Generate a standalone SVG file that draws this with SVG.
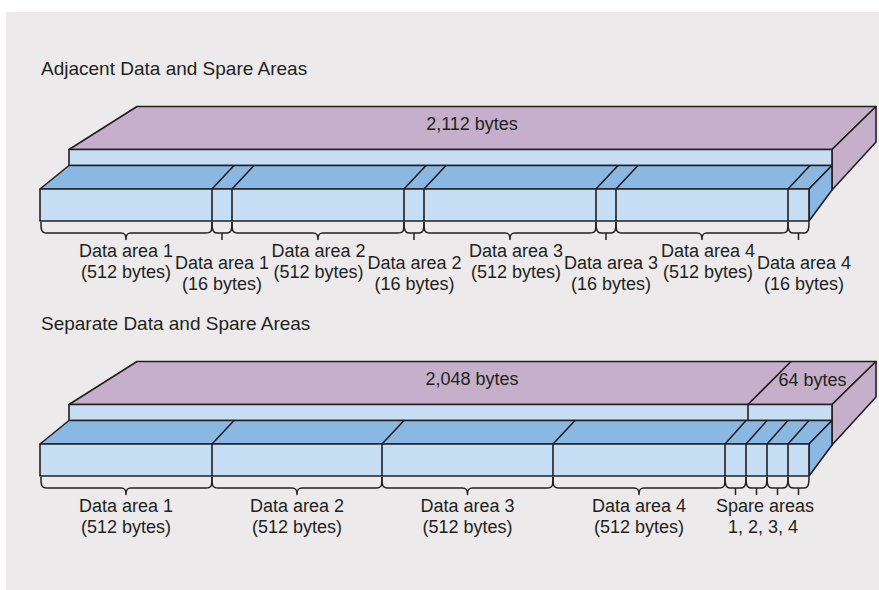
<svg xmlns="http://www.w3.org/2000/svg" width="879" height="590" viewBox="0 0 879 590">
  <style>
    .panel { fill: #ECEAEB; }
    .purple { fill: #C5AFCB; stroke: #231F20; stroke-width: 1.6; stroke-linejoin: round; }
    .light { fill: #C6DEF3; stroke: #231F20; stroke-width: 1.6; stroke-linejoin: round; }
    .mid { fill: #8AB8E2; stroke: #231F20; stroke-width: 1.6; stroke-linejoin: round; }
    .line { fill: none; stroke: #231F20; stroke-width: 1.6; }
    .brace { fill: none; stroke: #231F20; stroke-width: 1.5; stroke-linejoin: round; }
    text { font-family: "Liberation Sans", Arial, sans-serif; font-size: 18px; fill: #231F20; }
    .title { font-size: 19px; }
    .c { text-anchor: middle; }
  </style>

  <rect class="panel" x="6" y="12" width="873" height="578"/>

  <!-- Upper layout: data and spare areas interleaved -->
  <text id="title-adjacent" class="title" x="41" y="75">Adjacent Data and Spare Areas</text>

  <g id="page-adjacent">
    <polygon class="purple" points="69,149.5 137,106.5 876,106.5 832,149.5"/>
    <polygon class="purple" points="832,149.5 876,106.5 876,142 832,190"/>
    <rect class="light" x="69" y="149.5" width="763" height="16"/>
    <text class="c" x="472" y="130">2,112 bytes</text>
  </g>

  <g id="areas-adjacent">
    <polygon class="mid" points="40,189 69,165.5 832,165.5 809,189"/>
    <polygon class="mid" points="809,189 832,165.5 832,190 809,221"/>
    <rect class="light" x="40" y="189" width="769" height="32"/>
    <g class="line">
      <path d="M212,189 L234,165.5 M232,189 L254,165.5 M404,189 L426,165.5 M424,189 L446,165.5 M596,189 L618,165.5 M616,189 L638,165.5 M788,189 L810,165.5"/>
      <path d="M212,189 V221 M232,189 V221 M404,189 V221 M424,189 V221 M596,189 V221 M616,189 V221 M788,189 V221"/>
    </g>
  </g>

  <g id="braces-adjacent" class="brace">
    <path d="M41,222 C41,230 41,233 47,233 H121 C125,233 126,235 126,239.5 C126,235 127,233 131,233 H206 C212,233 212,230 212,222"/>
    <path d="M212,222 C212,230 213,233 217,233 H227 C231,233 232,230 232,222 M222,233 V240"/>
    <path d="M232,222 C232,230 232,233 238,233 H313 C317,233 318,235 318,239.5 C318,235 319,233 323,233 H398 C404,233 404,230 404,222"/>
    <path d="M404,222 C404,230 405,233 409,233 H419 C423,233 424,230 424,222 M414,233 V240"/>
    <path d="M424,222 C424,230 424,233 430,233 H505 C509,233 510,235 510,239.5 C510,235 511,233 515,233 H590 C596,233 596,230 596,222"/>
    <path d="M596,222 C596,230 597,233 601,233 H611 C615,233 616,230 616,222 M606,233 V240"/>
    <path d="M616,222 C616,230 616,233 622,233 H697 C701,233 702,235 702,239.5 C702,235 703,233 707,233 H782 C788,233 788,230 788,222"/>
    <path d="M788,222 C788,230 789,233 793,233 H804 C808,233 809,230 809,222 M798.5,233 V240"/>
  </g>

  <g id="labels-adjacent">
    <text class="c" x="126" y="257">Data area 1</text>
    <text class="c" x="126" y="278">(512 bytes)</text>
    <text class="c" x="222" y="269">Data area 1</text>
    <text class="c" x="222" y="290">(16 bytes)</text>
    <text class="c" x="318.5" y="257">Data area 2</text>
    <text class="c" x="318.5" y="278">(512 bytes)</text>
    <text class="c" x="414.5" y="269">Data area 2</text>
    <text class="c" x="414.5" y="290">(16 bytes)</text>
    <text class="c" x="516" y="257">Data area 3</text>
    <text class="c" x="516" y="278">(512 bytes)</text>
    <text class="c" x="611" y="269">Data area 3</text>
    <text class="c" x="611" y="290">(16 bytes)</text>
    <text class="c" x="708" y="257">Data area 4</text>
    <text class="c" x="708" y="278">(512 bytes)</text>
    <text class="c" x="804" y="269">Data area 4</text>
    <text class="c" x="804" y="290">(16 bytes)</text>
  </g>

  <!-- Lower layout: data areas first, spare areas grouped at the end -->
  <text id="title-separate" class="title" x="41" y="330">Separate Data and Spare Areas</text>

  <g id="page-separate">
    <polygon class="purple" points="69,404.5 137,361.5 876,361.5 832,404.5"/>
    <polygon class="purple" points="832,404.5 876,361.5 876,397 832,445"/>
    <rect class="light" x="69" y="404.5" width="763" height="16"/>
    <path class="line" d="M748,404.5 L791,361.5 M748,404.5 V420.5"/>
    <text class="c" x="472" y="385">2,048 bytes</text>
    <text class="c" x="812.5" y="386">64 bytes</text>
  </g>

  <g id="areas-separate">
    <polygon class="mid" points="40,444 69,420.5 832,420.5 809,444"/>
    <polygon class="mid" points="809,444 832,420.5 832,445 809,476"/>
    <rect class="light" x="40" y="444" width="769" height="32"/>
    <g class="line">
      <path d="M212,444 L234,420.5 M382,444 L404,420.5 M553,444 L575,420.5 M725,444 L746,420.5 M746,444 L767,420.5 M767,444 L788,420.5 M788,444 L809,420.5"/>
      <path d="M212,444 V476 M382,444 V476 M553,444 V476 M725,444 V476 M746,444 V476 M767,444 V476 M788,444 V476"/>
    </g>
  </g>

  <g id="braces-separate" class="brace">
    <path d="M41,477 C41,485 41,488 47,488 H121 C125,488 126,490 126,494.5 C126,490 127,488 131,488 H206 C212,488 212,485 212,477"/>
    <path d="M212,477 C212,485 212,488 218,488 H292 C296,488 297,490 297,494.5 C297,490 298,488 302,488 H376 C382,488 382,485 382,477"/>
    <path d="M382,477 C382,485 382,488 388,488 H462.5 C466.5,488 467.5,490 467.5,494.5 C467.5,490 468.5,488 472.5,488 H547 C553,488 553,485 553,477"/>
    <path d="M553,477 C553,485 553,488 559,488 H634 C638,488 639,490 639,494.5 C639,490 640,488 644,488 H719 C725,488 725,485 725,477"/>
    <path d="M725,477 C725,485 726,488 730,488 H741 C745,488 746,485 746,477 M735.5,488 V495"/>
    <path d="M746,477 C746,485 747,488 751,488 H762 C766,488 767,485 767,477 M756.5,488 V495"/>
    <path d="M767,477 C767,485 768,488 772,488 H783 C787,488 788,485 788,477 M777.5,488 V495"/>
    <path d="M788,477 C788,485 789,488 793,488 H804 C808,488 809,485 809,477 M798.5,488 V495"/>
  </g>

  <g id="labels-separate">
    <text class="c" x="126" y="512">Data area 1</text>
    <text class="c" x="126" y="533">(512 bytes)</text>
    <text class="c" x="297" y="512">Data area 2</text>
    <text class="c" x="297" y="533">(512 bytes)</text>
    <text class="c" x="467.5" y="512">Data area 3</text>
    <text class="c" x="467.5" y="533">(512 bytes)</text>
    <text class="c" x="639" y="512">Data area 4</text>
    <text class="c" x="639" y="533">(512 bytes)</text>
    <text class="c" x="765" y="512">Spare areas</text>
    <text class="c" x="763" y="533">1, 2, 3, 4</text>
  </g>
</svg>
